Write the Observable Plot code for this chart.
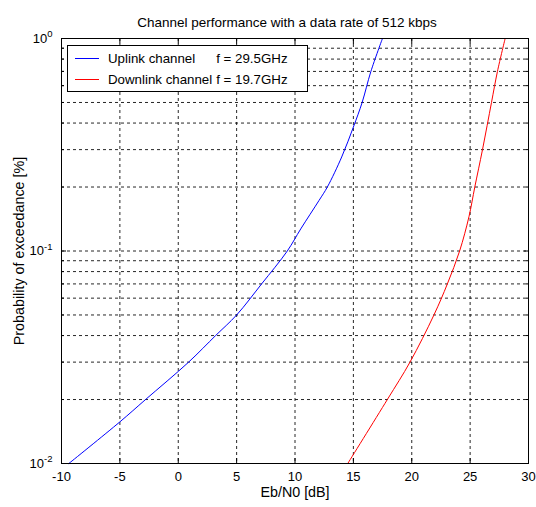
<!DOCTYPE html>
<html><head><meta charset="utf-8">
<script src="https://cdn.jsdelivr.net/npm/d3@7"></script>
<script src="https://cdn.jsdelivr.net/npm/@observablehq/plot@0.6"></script>
<style>
body{margin:0;background:#fff;}
#wrap{position:relative;width:536px;height:507px;font-family:"Liberation Sans",Arial,sans-serif;}
#legend{position:absolute;left:67px;top:45px;width:241px;height:47px;box-sizing:border-box;border:1px solid #000;background:#fff;font-size:13.3px;display:grid;grid-template-columns:24px auto auto;grid-template-rows:21px 21px;align-content:center;justify-content:start;padding-left:7px;color:#000;}
#legend svg{align-self:center;display:block;}
#legend .nm{padding-left:9px;white-space:pre;align-self:center;padding-right:4px;}
#legend .fq{white-space:pre;align-self:center;}
</style>
</head><body>
<div id="wrap"></div>
<script>
const title = "Channel performance with a data rate of 512 kbps";
const xLabel = "Eb/N0 [dB]";
const yLabel = "Probability of exceedance [%]";
const seriesNames = ["Uplink channel", "Downlink channel"];
const seriesFreqs = ["f = 29.5GHz", "f = 19.7GHz"];
const seriesColors = ["#0000ff", "#ff0000"];

const uplinkEbN0 = [-9.37, -5.0, -2.8, 0.89, 3.2, 5.0, 7.14, 9.34, 10.49, 12.06, 12.77, 14.0, 15.0, 15.75, 16.5, 17.49];
const uplinkProb = [0.01, 0.0157, 0.02, 0.03, 0.04, 0.05, 0.07, 0.1, 0.127, 0.173, 0.2, 0.277, 0.383, 0.5, 0.7, 1.0];
const downlinkEbN0 = [14.52, 17.91, 19.85, 21.9, 23.05, 24.1, 24.9, 25.4, 26.06, 26.83, 27.34, 28.0];
const downlinkProb = [0.01, 0.02, 0.03, 0.05, 0.07, 0.1, 0.145, 0.2, 0.3, 0.5, 0.7, 1.0];

const xTicks = [-10, -5, 0, 5, 10, 15, 20, 25, 30];
const xGridTicks = [-5, 0, 5, 10, 15, 20, 25];
const yMajorTicks = [0.01, 0.1, 1];
const yMajorLabels = ["10^-2", "10^-1", "10^0"];
const yMinorTicks = [0.02, 0.03, 0.04, 0.05, 0.06, 0.07, 0.08, 0.09, 0.2, 0.3, 0.4, 0.5, 0.6, 0.7, 0.8, 0.9];
const yGridTicks = [0.02, 0.03, 0.04, 0.05, 0.06, 0.07, 0.08, 0.09, 0.1, 0.2, 0.3, 0.4, 0.5, 0.6, 0.7, 0.8, 0.9];

const up = uplinkEbN0.map((x, i) => ({x, y: uplinkProb[i]}));
const down = downlinkEbN0.map((x, i) => ({x, y: downlinkProb[i]}));

const gridStyle = {stroke: "#000", strokeOpacity: 0.85, strokeDasharray: "3,3"};
const noText = () => "";

const plot = Plot.plot({
  width: 536, height: 507,
  marginTop: 38, marginBottom: 44, marginLeft: 61, marginRight: 8,
  style: {fontFamily: '"Liberation Sans", Arial, sans-serif', fontSize: "13px", background: "#fff", color: "#000", overflow: "visible"},
  x: {domain: [-10, 30]},
  y: {type: "log", domain: [0.01, 1]},
  marks: [
    Plot.gridX(xGridTicks, gridStyle),
    Plot.gridY(yGridTicks, gridStyle),
    Plot.line(up, {x: "x", y: "y", stroke: seriesColors[0], strokeWidth: 1, curve: "catmull-rom"}),
    Plot.line(down, {x: "x", y: "y", stroke: seriesColors[1], strokeWidth: 1, curve: "catmull-rom"}),
    Plot.frame({stroke: "#000"}),
    Plot.axisX(xTicks, {anchor: "bottom", tickSize: 0, tickPadding: 8, tickFormat: d => String(d), label: xLabel, labelAnchor: "center", labelArrow: "none", labelOffset: 33, fontSize: 13}),
    Plot.axisX(xTicks, {anchor: "bottom", tickSize: -5, tickFormat: noText, label: null}),
    Plot.axisX(xTicks, {anchor: "top", tickSize: -5, tickFormat: noText, label: null}),
    Plot.axisY(yMajorTicks, {anchor: "left", tickSize: 0, tickPadding: 9, tickFormat: d => yMajorLabels[yMajorTicks.indexOf(d)], label: yLabel, labelAnchor: "center", labelArrow: "none", labelOffset: 48, fontSize: 13}),
    Plot.axisY(yMajorTicks, {anchor: "left", tickSize: -5, tickFormat: noText, label: null}),
    Plot.axisY(yMinorTicks, {anchor: "left", tickSize: -3, tickFormat: noText, label: null}),
    Plot.axisY(yMajorTicks, {anchor: "right", tickSize: -5, tickFormat: noText, label: null}),
    Plot.axisY(yMinorTicks, {anchor: "right", tickSize: -3, tickFormat: noText, label: null}),
    Plot.text([title], {frameAnchor: "top", dy: -21, dx: -8, fontSize: 13.5, fill: "#000"})
  ]
});

d3.select(plot).selectAll("g[aria-label='y-axis tick label'] text").each(function() {
  const s = this.textContent;
  if (!s.includes("^")) return;
  const [b, e] = s.split("^");
  const t = d3.select(this);
  t.text(b);
  t.append("tspan").attr("dy", "-0.55em").attr("font-size", "9.5px").text(e);
});
d3.select(plot).selectAll("g[aria-label$='axis label'] text").each(function() {
  this.textContent = this.textContent.replace(/\s*[→↑←↓]\s*/g, "").trim();
  this.setAttribute("font-size", "14.3px");
  this.parentNode.setAttribute("font-size", "14.3px");
});

const wrap = document.getElementById("wrap");
wrap.appendChild(plot);

const legend = document.createElement("div");
legend.id = "legend";
seriesNames.forEach((name, i) => {
  const sw = d3.create("svg").attr("width", 24).attr("height", 3);
  sw.append("line").attr("x1", 0).attr("x2", 24).attr("y1", 1.5).attr("y2", 1.5)
    .attr("stroke", seriesColors[i]).attr("stroke-width", 1);
  const nm = document.createElement("div");
  nm.className = "nm";
  nm.textContent = name;
  const fq = document.createElement("div");
  fq.className = "fq";
  fq.textContent = seriesFreqs[i];
  legend.append(sw.node(), nm, fq);
});
wrap.appendChild(legend);
</script>
</body></html>
